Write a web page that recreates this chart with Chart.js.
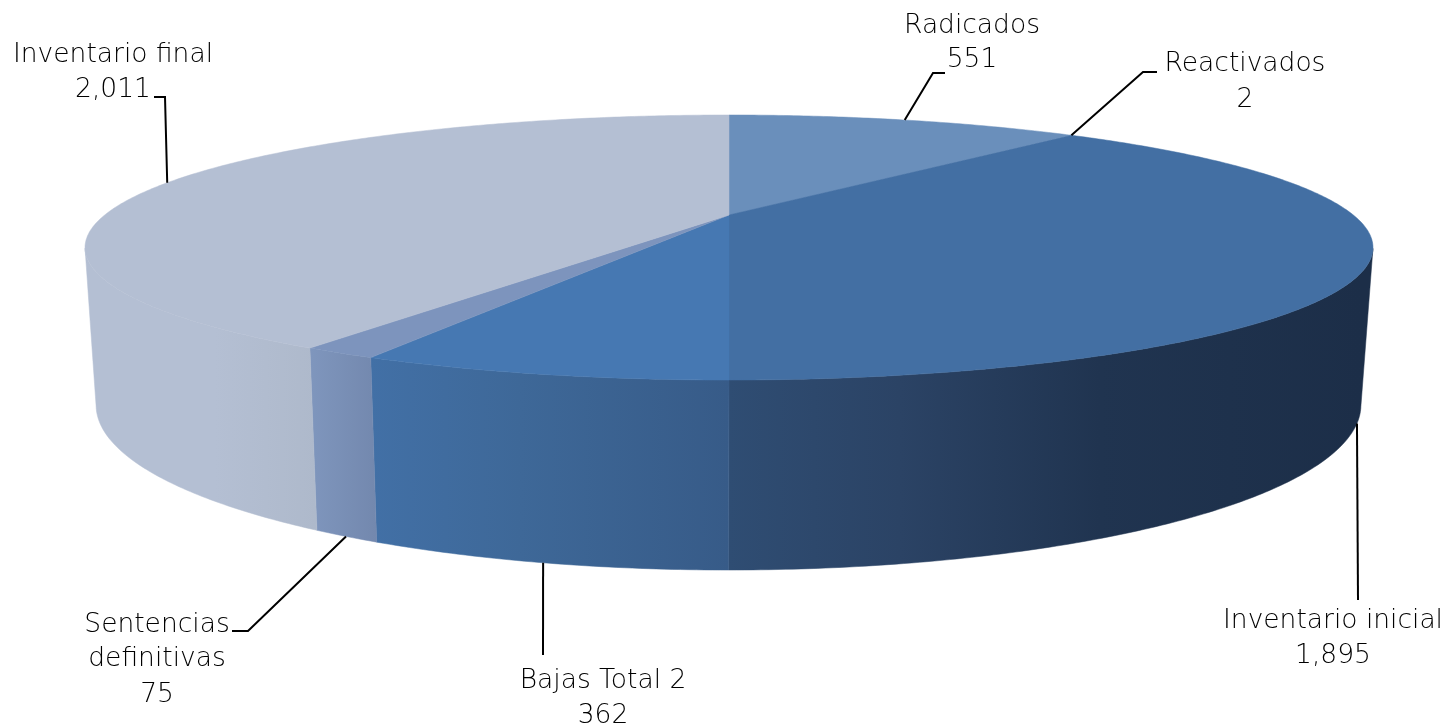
<!DOCTYPE html>
<html>
<head>
<meta charset="utf-8">
<title>Inventario</title>
<script src="https://cdn.jsdelivr.net/npm/chart.js@4"></script>
<style>
  html, body { margin: 0; padding: 0; background: #fff; overflow: hidden; }
  canvas { display: block; }
</style>
</head>
<body>
<canvas id="pie" width="1447" height="728"></canvas>
<script>
// --- Data ---
const categories = ["Radicados", "Reactivados", "Inventario inicial", "Bajas Total 2", "Sentencias definitivas", "Inventario final"];
const values = [551, 2, 1895, 362, 75, 2011];

// --- Colours ---
const topColors = ["#6a8fbb", "#6a8fbb", "#436fa3", "#4678b2", "#7d94bd", "#b4bfd3"];
const wallStops = [
    [], [],
    [[729, "#2f4d73"], [900, "#2b4365"], [1100, "#203450"], [1361, "#1c2e48"]],
    [[370, "#4270a6"], [520, "#3e6898"], [729, "#375b88"]],
    [[310, "#7f96bd"], [376, "#7388ae"]],
    [[96, "#b4bfd3"], [215, "#b4bfd3"], [316, "#aeb9cb"]]
];

// --- Label layout: text lines centred on x, with a baseline per line ---
const labelLayout = [
    { x: 972, lines: ["Radicados", "551"], ys: [33, 67] },
    { x: 1245, lines: ["Reactivados", "2"], ys: [71, 107] },
    { x: 1333, lines: ["Inventario inicial", "1,895"], ys: [628, 663] },
    { x: 603, lines: ["Bajas Total 2", "362"], ys: [688, 723] },
    { x: 157, lines: ["Sentencias", "definitivas", "75"], ys: [632, 666, 702] },
    { x: 113, lines: ["Inventario final", "2,011"], ys: [62, 97] }
];
// Leader bends, the first point comes from the slice itself
const leaderBends = [
    [[933, 73], [945, 73]],
    [[1143, 72], [1157, 72]],
    [[1358, 600]],
    [[543, 655]],
    [[248, 631], [232, 631]],
    [[165, 97], [154, 97]]
];

// --- Projection of the unit circle on the two faces of the disc ---
const tilt = -0.2453;
const topFace = { cx: 729, k: 624.3, a: 71.8, b: 215 };
const bottomFace = { cx: 728.5, k: 613.1, a: 65.7, b: 364.5 };
const frontLimit = 0.2453; // walls only show below the widest part of the ellipse

function project(face, angle) {
    let x = Math.cos(angle)
    let y = Math.sin(angle)
    let w = 1 + tilt * y
    return [face.cx + face.k * x / w, (face.a * y + face.b) / w]
}

function sampleAngles(start, end) {
    let out = []
    let steps = Math.max(2, Math.ceil((end - start) / 0.01))
    for (let i = 0; i <= steps; i++) {
        out.push(start + (end - start) * i / steps)
    }
    return out
}

function wallGradient(ctx, stops) {
    let x0 = stops[0][0]
    let x1 = stops[stops.length - 1][0]
    let g = ctx.createLinearGradient(x0, 0, x1, 0)
    stops.forEach(s => g.addColorStop((s[0] - x0) / (x1 - x0), s[1]))
    return g
}

// ================================
// Flat arcs become a tilted disc
// ================================

const disc3d = {
    id: "disc3d",

    beforeDatasetDraw(chart) {
        const ctx = chart.ctx
        const arcs = chart.getDatasetMeta(0).data

        ctx.save()

        // walls first, the front part only
        arcs.forEach((arc, i) => {
            if (!wallStops[i].length) return
            let angles = sampleAngles(arc.startAngle, arc.endAngle).filter(a => Math.sin(a) >= frontLimit)
            if (angles.length < 2) return
            let fill = wallGradient(ctx, wallStops[i])
            ctx.beginPath()
            angles.forEach((a, n) => {
                let p = project(topFace, a)
                if (n === 0) ctx.moveTo(p[0], p[1])
                else ctx.lineTo(p[0], p[1])
            })
            angles.slice().reverse().forEach(a => {
                let p = project(bottomFace, a)
                ctx.lineTo(p[0], p[1])
            })
            ctx.closePath()
            ctx.fillStyle = fill
            ctx.strokeStyle = fill
            ctx.lineWidth = 0.5
            ctx.fill()
            ctx.stroke()
        })

        // top face
        arcs.forEach((arc, i) => {
            ctx.beginPath()
            ctx.moveTo(topFace.cx, topFace.b)
            sampleAngles(arc.startAngle, arc.endAngle).forEach(a => {
                let p = project(topFace, a)
                ctx.lineTo(p[0], p[1])
            })
            ctx.closePath()
            ctx.fillStyle = topColors[i]
            ctx.strokeStyle = topColors[i]
            ctx.lineWidth = 0.5
            ctx.fill()
            ctx.stroke()
        })

        // leaders: back slices start on the top rim, front ones on the bottom rim
        ctx.strokeStyle = "#000"
        ctx.lineWidth = 2
        arcs.forEach((arc, i) => {
            let mid = (arc.startAngle + arc.endAngle) / 2
            let p = project(Math.sin(mid) >= frontLimit ? bottomFace : topFace, mid)
            ctx.beginPath()
            ctx.moveTo(p[0], p[1])
            leaderBends[i].forEach(b => ctx.lineTo(b[0], b[1]))
            ctx.stroke()
        })

        // labels
        ctx.fillStyle = "#000"
        ctx.font = "200 26.5px 'DejaVu Sans'"
        ctx.textAlign = "center"
        ctx.textBaseline = "alphabetic"
        labelLayout.forEach(l => {
            l.lines.forEach((t, n) => ctx.fillText(t, l.x, l.ys[n]))
        })

        ctx.restore()
        return false
    }
}

new Chart(document.getElementById("pie"), {
    type: "pie",
    data: {
        labels: categories,
        datasets: [{ data: values, backgroundColor: topColors, borderWidth: 0 }]
    },
    options: {
        responsive: false,
        maintainAspectRatio: false,
        animation: false,
        plugins: {
            legend: { display: false },
            tooltip: { enabled: false }
        }
    },
    plugins: [disc3d]
})
</script>
</body>
</html>
